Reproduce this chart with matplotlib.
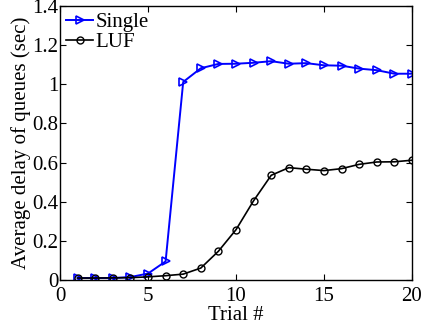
import numpy as np
import matplotlib.pyplot as plt
from matplotlib.ticker import FuncFormatter

trials = list(range(1, 21))
single = [0.01, 0.01, 0.01, 0.015, 0.033, 0.095, 1.012, 1.082, 1.104, 1.105,
          1.11, 1.118, 1.105, 1.108, 1.097, 1.095, 1.08, 1.072, 1.054, 1.054]
luf = [0.01, 0.01, 0.011, 0.012, 0.016, 0.022, 0.03, 0.061, 0.147, 0.257,
       0.405, 0.535, 0.574, 0.566, 0.559, 0.569, 0.591, 0.603, 0.604, 0.612]

plt.rcParams['font.family'] = 'Liberation Serif'
plt.rcParams['font.size'] = 15

fig = plt.figure(figsize=(4.22, 3.24), dpi=100)
ax = fig.add_axes([60/422, 44/324, 352/422, 274/324])

ax.plot(trials, single, color='#0000ff', marker='>', markersize=6, markerfacecolor='none',
        markeredgewidth=1.2, linewidth=1.4, label='Single')
ax.plot(trials, luf, color='black', marker='o', markersize=5, markerfacecolor='none',
        markeredgewidth=1.0, linewidth=1.2, label='LUF')

ax.set_xlim(0, 20)
ax.set_ylim(0, 1.4)
ax.set_xticks([0, 5, 10, 15, 20])
ax.set_yticks([0, 0.2, 0.4, 0.6, 0.8, 1.0, 1.2, 1.4])
ax.yaxis.set_major_formatter(FuncFormatter(lambda v, p: ('%g' % round(v, 1))))
ax.tick_params(direction='in', top=True, right=True, length=4, labelsize=15)
ax.tick_params(axis='x', pad=5)
ax.tick_params(axis='y', pad=1)
for s in ax.spines.values():
    s.set_linewidth(1.0)

ax.set_xlabel('Trial #', fontsize=15, labelpad=0)
ax.set_ylabel('Average delay of queues (sec)', fontsize=15, labelpad=1)

ax.legend(loc='upper left', frameon=False, fontsize=15, handlelength=1.3,
          handletextpad=0.1, borderaxespad=0.1, labelspacing=0.05, borderpad=0.2)

fig.savefig('out.png', dpi=100)
